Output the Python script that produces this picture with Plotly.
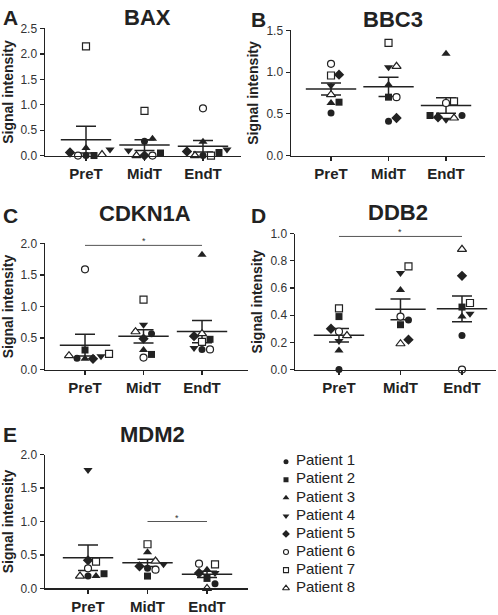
import plotly.graph_objects as go
import numpy as np

W, H = 498, 615
FONT = "Arial, Liberation Sans, sans-serif"
INK = "#222222"

timepoints = ["PreT", "MidT", "EndT"]
patients = [f"Patient {i}" for i in range(1, 9)]
genes = ["BAX", "BBC3", "CDKN1A", "DDB2", "MDM2"]
panel_letters = ["A", "B", "C", "D", "E"]

# values per timepoint, ordered Patient 1..8
bax_pre = [0.0, 0.0, 0.15, 0.12, 0.06, 0.0, 2.15, 0.02]
bax_mid = [0.28, 0.05, 0.33, 0.10, 0.0, 0.0, 0.88, 0.0]
bax_end = [0.0, 0.06, 0.27, 0.12, 0.08, 0.93, 0.0, 0.0]

bbc3_pre = [0.51, 0.64, 0.63, 0.84, 0.97, 1.10, 0.96, 0.73]
bbc3_mid = [0.41, 0.70, 0.85, 1.06, 0.45, 0.70, 1.35, 1.07]
bbc3_end = [0.48, 0.48, 1.22, 0.43, 0.46, 0.63, 0.65, 0.45]

cdkn1a_pre = [0.18, 0.31, 0.17, 0.21, 0.17, 1.59, 0.25, 0.22]
cdkn1a_mid = [0.57, 0.24, 0.31, 0.71, 0.49, 0.19, 1.11, 0.60]
cdkn1a_end = [0.32, 0.48, 1.82, 0.34, 0.53, 0.32, 0.44, 0.57]

ddb2_pre = [0.0, 0.39, 0.14, 0.21, 0.30, 0.28, 0.45, 0.25]
ddb2_mid = [0.365, 0.33, 0.585, 0.71, 0.22, 0.39, 0.76, 0.19]
ddb2_end = [0.25, 0.46, 0.39, 0.41, 0.69, 0.0, 0.49, 0.885]

mdm2_pre = [0.185, 0.22, 0.185, 1.77, 0.42, 0.30, 0.40, 0.185]
mdm2_mid = [0.30, 0.185, 0.54, 0.36, 0.33, 0.28, 0.66, 0.41]
mdm2_end = [0.07, 0.15, 0.28, 0.23, 0.23, 0.37, 0.36, 0.0]

gene_data = [
    [bax_pre, bax_mid, bax_end],
    [bbc3_pre, bbc3_mid, bbc3_end],
    [cdkn1a_pre, cdkn1a_mid, cdkn1a_end],
    [ddb2_pre, ddb2_mid, ddb2_end],
    [mdm2_pre, mdm2_mid, mdm2_end],
]
y_max = [2.5, 1.5, 2.0, 1.0, 2.0]
y_dtick = [0.5, 0.5, 0.5, 0.2, 0.5]
# significance brackets: (panel index, from category, to category, y level)
sig_panel = [2, 3, 4]
sig_from = [1, 1, 2]
sig_to = [3, 3, 3]
sig_y = [1.97, 0.98, 1.0]

# layout geometry in pixels: left, right, top(y_max), bottom(0)
px_box = [
    (45, 241, 22, 152),
    (291, 485, 24, 152),
    (45, 248, 242, 371),
    (295, 496, 232, 371),
    (45, 248, 458, 595),
]
x_ranges = [(0.299, 3.65), (0.304, 3.678), (0.316, 3.786), (0.285, 3.553), (0.277, 3.689)]
title_pos = [(147, 11), (393, 13), (145, 211), (398, 210), (152, 437)]
letter_pos = [(1, 11), (249, 13), (1, 213), (249, 213), (1, 437)]

symbols = ["circle", "square", "triangle-up", "triangle-down", "diamond",
           "circle", "square", "triangle-up"]
filled = [True, True, True, True, True, False, False, False]
sizes = [7, 7, 8, 8, 8, 7, 7, 8]


def swarm(values, px_per_y, px_per_x, d=8.0):
    order = np.argsort(values, kind="stable")
    placed = []
    offs = np.zeros(len(values))
    cands = [0]
    for k in range(1, 8):
        cands += [k * d, -k * d]
    for i in order:
        yp = values[i] * px_per_y
        for c in cands:
            ok = all((c - pc) ** 2 + (yp - py) ** 2 >= (d * 0.95) ** 2 for pc, py in placed)
            if ok:
                placed.append((c, yp))
                offs[i] = c / px_per_x
                break
    return offs


fig = go.Figure()
layout = dict(
    width=W, height=H, margin=dict(l=0, r=0, t=0, b=0),
    paper_bgcolor="white", plot_bgcolor="white",
    showlegend=False, font=dict(family=FONT, color=INK),
)
annotations = []
shapes = []

for g in range(5):
    k = g + 1
    xn = "x" if k == 1 else f"x{k}"
    yn = "y" if k == 1 else f"y{k}"
    L, R, T, B = px_box[g]
    lo, hi = x_ranges[g]
    ppy = (B - T) / y_max[g]
    ppx = (R - L) / (hi - lo)
    data = gene_data[g]
    means = [float(np.mean(v)) for v in data]
    sems = [float(np.std(v, ddof=1) / np.sqrt(len(v))) for v in data]

    # mean line + SEM
    fig.add_trace(go.Scatter(
        x=[1, 2, 3], y=means, xaxis=xn, yaxis=yn, mode="markers",
        marker=dict(symbol="line-ew", size=36, color=INK, line=dict(color=INK, width=1.5)),
        error_y=dict(type="data", array=sems, visible=True, width=10, thickness=1.5, color=INK),
        cliponaxis=False, hoverinfo="skip",
    ))

    offsets = [swarm(np.array(v), ppy, ppx) for v in data]
    for p in range(8):
        xs = [c + 1 + offsets[c][p] for c in range(3)]
        ys = [data[c][p] for c in range(3)]
        fig.add_trace(go.Scatter(
            x=xs, y=ys, xaxis=xn, yaxis=yn, mode="markers", name=patients[p],
            marker=dict(symbol=symbols[p], size=sizes[p],
                        color=INK if filled[p] else "white",
                        line=dict(color=INK, width=0 if filled[p] else 1.2)),
            cliponaxis=False,
        ))

    layout["xaxis" if k == 1 else f"xaxis{k}"] = dict(
        domain=[L / W, R / W], range=[lo, hi], anchor=yn,
        showline=True, linecolor=INK, linewidth=1.5, ticks="outside", ticklen=4,
        tickwidth=1.2, tickcolor=INK, showgrid=False, zeroline=False,
        tickvals=[1, 2, 3], ticktext=timepoints,
        tickfont=dict(family=FONT, size=15, color=INK, weight="bold"), fixedrange=True,
    )
    layout["yaxis" if k == 1 else f"yaxis{k}"] = dict(
        domain=[1 - B / H, 1 - T / H], range=[0, y_max[g]], anchor=xn,
        showline=True, linecolor=INK, linewidth=1.5, ticks="outside", ticklen=4,
        tickwidth=1.2, tickcolor=INK, showgrid=False, zeroline=False,
        dtick=y_dtick[g], tick0=0, tickformat=".1f",
        tickfont=dict(family=FONT, size=12, color="#333333"),
        title=dict(text="Signal intensity", standoff=4,
                   font=dict(family=FONT, size=14, color=INK, weight="bold")),
        fixedrange=True,
    )
    tx, ty = title_pos[g]
    annotations.append(dict(text=genes[g], x=tx / W, y=1 - ty / H, xref="paper", yref="paper",
                            xanchor="center", yanchor="middle", showarrow=False,
                            font=dict(family=FONT, size=22, color=INK, weight="bold")))
    lx, ly = letter_pos[g]
    annotations.append(dict(text=panel_letters[g], x=lx / W, y=1 - ly / H, xref="paper", yref="paper",
                            xanchor="left", yanchor="middle", showarrow=False,
                            font=dict(family=FONT, size=21, color=INK, weight="bold")))

for s in range(len(sig_panel)):
    k = sig_panel[s] + 1
    xn = "x" if k == 1 else f"x{k}"
    yn = "y" if k == 1 else f"y{k}"
    shapes.append(dict(type="line", xref=xn, yref=yn, x0=sig_from[s], x1=sig_to[s],
                       y0=sig_y[s], y1=sig_y[s], line=dict(color="#555555", width=1)))
    annotations.append(dict(text="*", xref=xn, yref=yn, x=(sig_from[s] + sig_to[s]) / 2,
                            y=sig_y[s], yshift=4, showarrow=False,
                            font=dict(family=FONT, size=9, color="#333333")))

# manual legend on a hidden axis
leg_rows = list(range(1, 9))
layout["xaxis6"] = dict(domain=[280 / W, 420 / W], range=[0, 140], visible=False, anchor="y6", fixedrange=True)
layout["yaxis6"] = dict(domain=[1 - 604 / H, 1 - 456 / H], range=[8.5, 0.5], visible=False, anchor="x6", fixedrange=True)
for p in range(8):
    fig.add_trace(go.Scatter(
        x=[6], y=[leg_rows[p]], xaxis="x6", yaxis="y6", mode="markers",
        marker=dict(symbol=symbols[p], size=sizes[p] - 2,
                    color=INK if filled[p] else "white",
                    line=dict(color=INK, width=0 if filled[p] else 1.1)),
        hoverinfo="skip",
    ))
fig.add_trace(go.Scatter(
    x=[16] * 8, y=leg_rows, xaxis="x6", yaxis="y6", mode="text", text=patients,
    textposition="middle right", textfont=dict(family=FONT, size=15, color=INK),
    hoverinfo="skip",
))

layout["annotations"] = annotations
layout["shapes"] = shapes
fig.update_layout(**layout)
fig.write_html(
    "out.html",
    config={"staticPlot": True},
    post_script="document.body.style.margin='0';document.body.style.overflow='hidden';",
)
